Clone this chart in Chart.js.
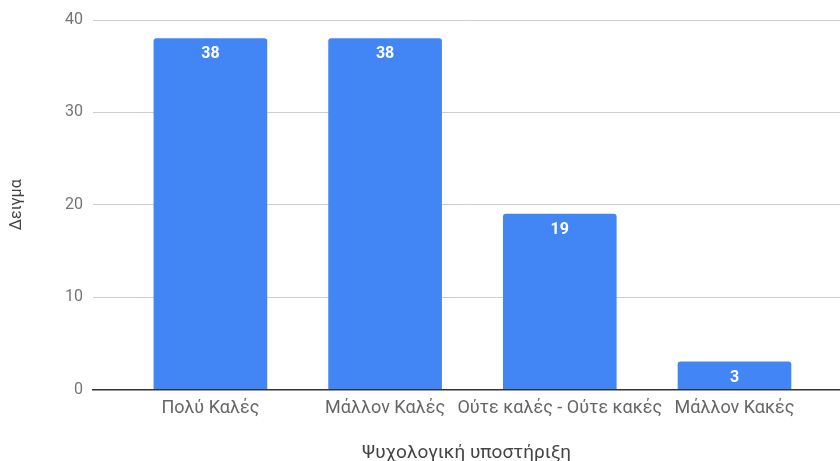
<!DOCTYPE html>
<html>
<head>
<meta charset="utf-8">
<script src="https://cdn.jsdelivr.net/npm/chart.js@4.4.1/dist/chart.umd.min.js"></script>
<style>
  html, body { margin: 0; padding: 0; background: #fff; overflow: hidden; }
  #wrap { width: 840px; height: 461px; position: relative; }
</style>
</head>
<body>
<div id="wrap"><canvas id="chart"></canvas></div>
<script>
// Responses per category
const categories = ["Πολύ Καλές", "Μάλλον Καλές", "Ούτε καλές - Ούτε κακές", "Μάλλον Κακές"];
const counts = [38, 38, 19, 3];
const yTicks = [0, 10, 20, 30, 40];

const xTitle = "Ψυχολογική υποστήριξη";
const yTitle = "Δειγμα";

// white value labels inside the top of each bar
const barLabels = {
    id: 'barLabels',
    afterDatasetsDraw(chart) {
        const ctx = chart.ctx;
        const meta = chart.getDatasetMeta(0);
        ctx.save();
        ctx.fillStyle = '#ffffff';
        ctx.font = 'bold 16px Roboto';
        ctx.textAlign = 'center';
        ctx.textBaseline = 'middle';
        meta.data.forEach((bar, i) => {
            ctx.fillText(String(counts[i]), bar.x, bar.y + 16);
        });
        ctx.restore();
    }
};

document.addEventListener('DOMContentLoaded', function() {
    const ctx = document.getElementById('chart').getContext('2d');
    new Chart(ctx, {
        type: 'bar',
        data: {
            datasets: [{
                data: counts.map((v, i) => ({ x: i, y: v })),
                backgroundColor: '#4285f4',
                borderRadius: { topLeft: 3, topRight: 3 },
                borderSkipped: 'bottom',
                barThickness: 113
            }]
        },
        options: {
            responsive: true,
            maintainAspectRatio: false,
            animation: false,
            layout: { padding: { top: 20, right: 0, bottom: 0, left: 0 } },
            plugins: {
                legend: { display: false },
                tooltip: { enabled: false }
            },
            scales: {
                x: {
                    type: 'linear',
                    offset: false,
                    min: -0.672,
                    max: 3.604,
                    grid: { display: false, drawTicks: false, offset: false },
                    border: { display: true, color: '#333333', width: 1.5, z: 1 },
                    afterFit: (s) => { s.height = 71.5; },
                    ticks: {
                        stepSize: 1,
                        includeBounds: false,
                        autoSkip: false,
                        maxRotation: 0,
                        padding: 8,
                        color: '#666666',
                        font: { family: 'Roboto', size: 18 },
                        callback: (v) => Number.isInteger(v) && categories[v] !== undefined ? categories[v] : ''
                    },
                    title: {
                        display: true,
                        text: xTitle,
                        color: '#444444',
                        font: { family: 'Roboto', size: 19 },
                        padding: { top: 0, bottom: -4 }
                    }
                },
                y: {
                    min: 0,
                    max: 40,
                    afterFit: (s) => { s.width = 93; },
                    afterBuildTicks: (s) => { s.ticks = yTicks.map(v => ({ value: v })); },
                    grid: { color: '#cccccc', drawTicks: false },
                    border: { display: false },
                    ticks: {
                        padding: 10,
                        color: '#757575',
                        font: { family: 'Roboto', size: 16 }
                    },
                    title: {
                        display: true,
                        text: yTitle,
                        color: '#444444',
                        font: { family: 'Roboto', size: 16 },
                        padding: { top: 7, bottom: 0 }
                    }
                }
            }
        },
        plugins: [barLabels]
    });
});
</script>
</body>
</html>
